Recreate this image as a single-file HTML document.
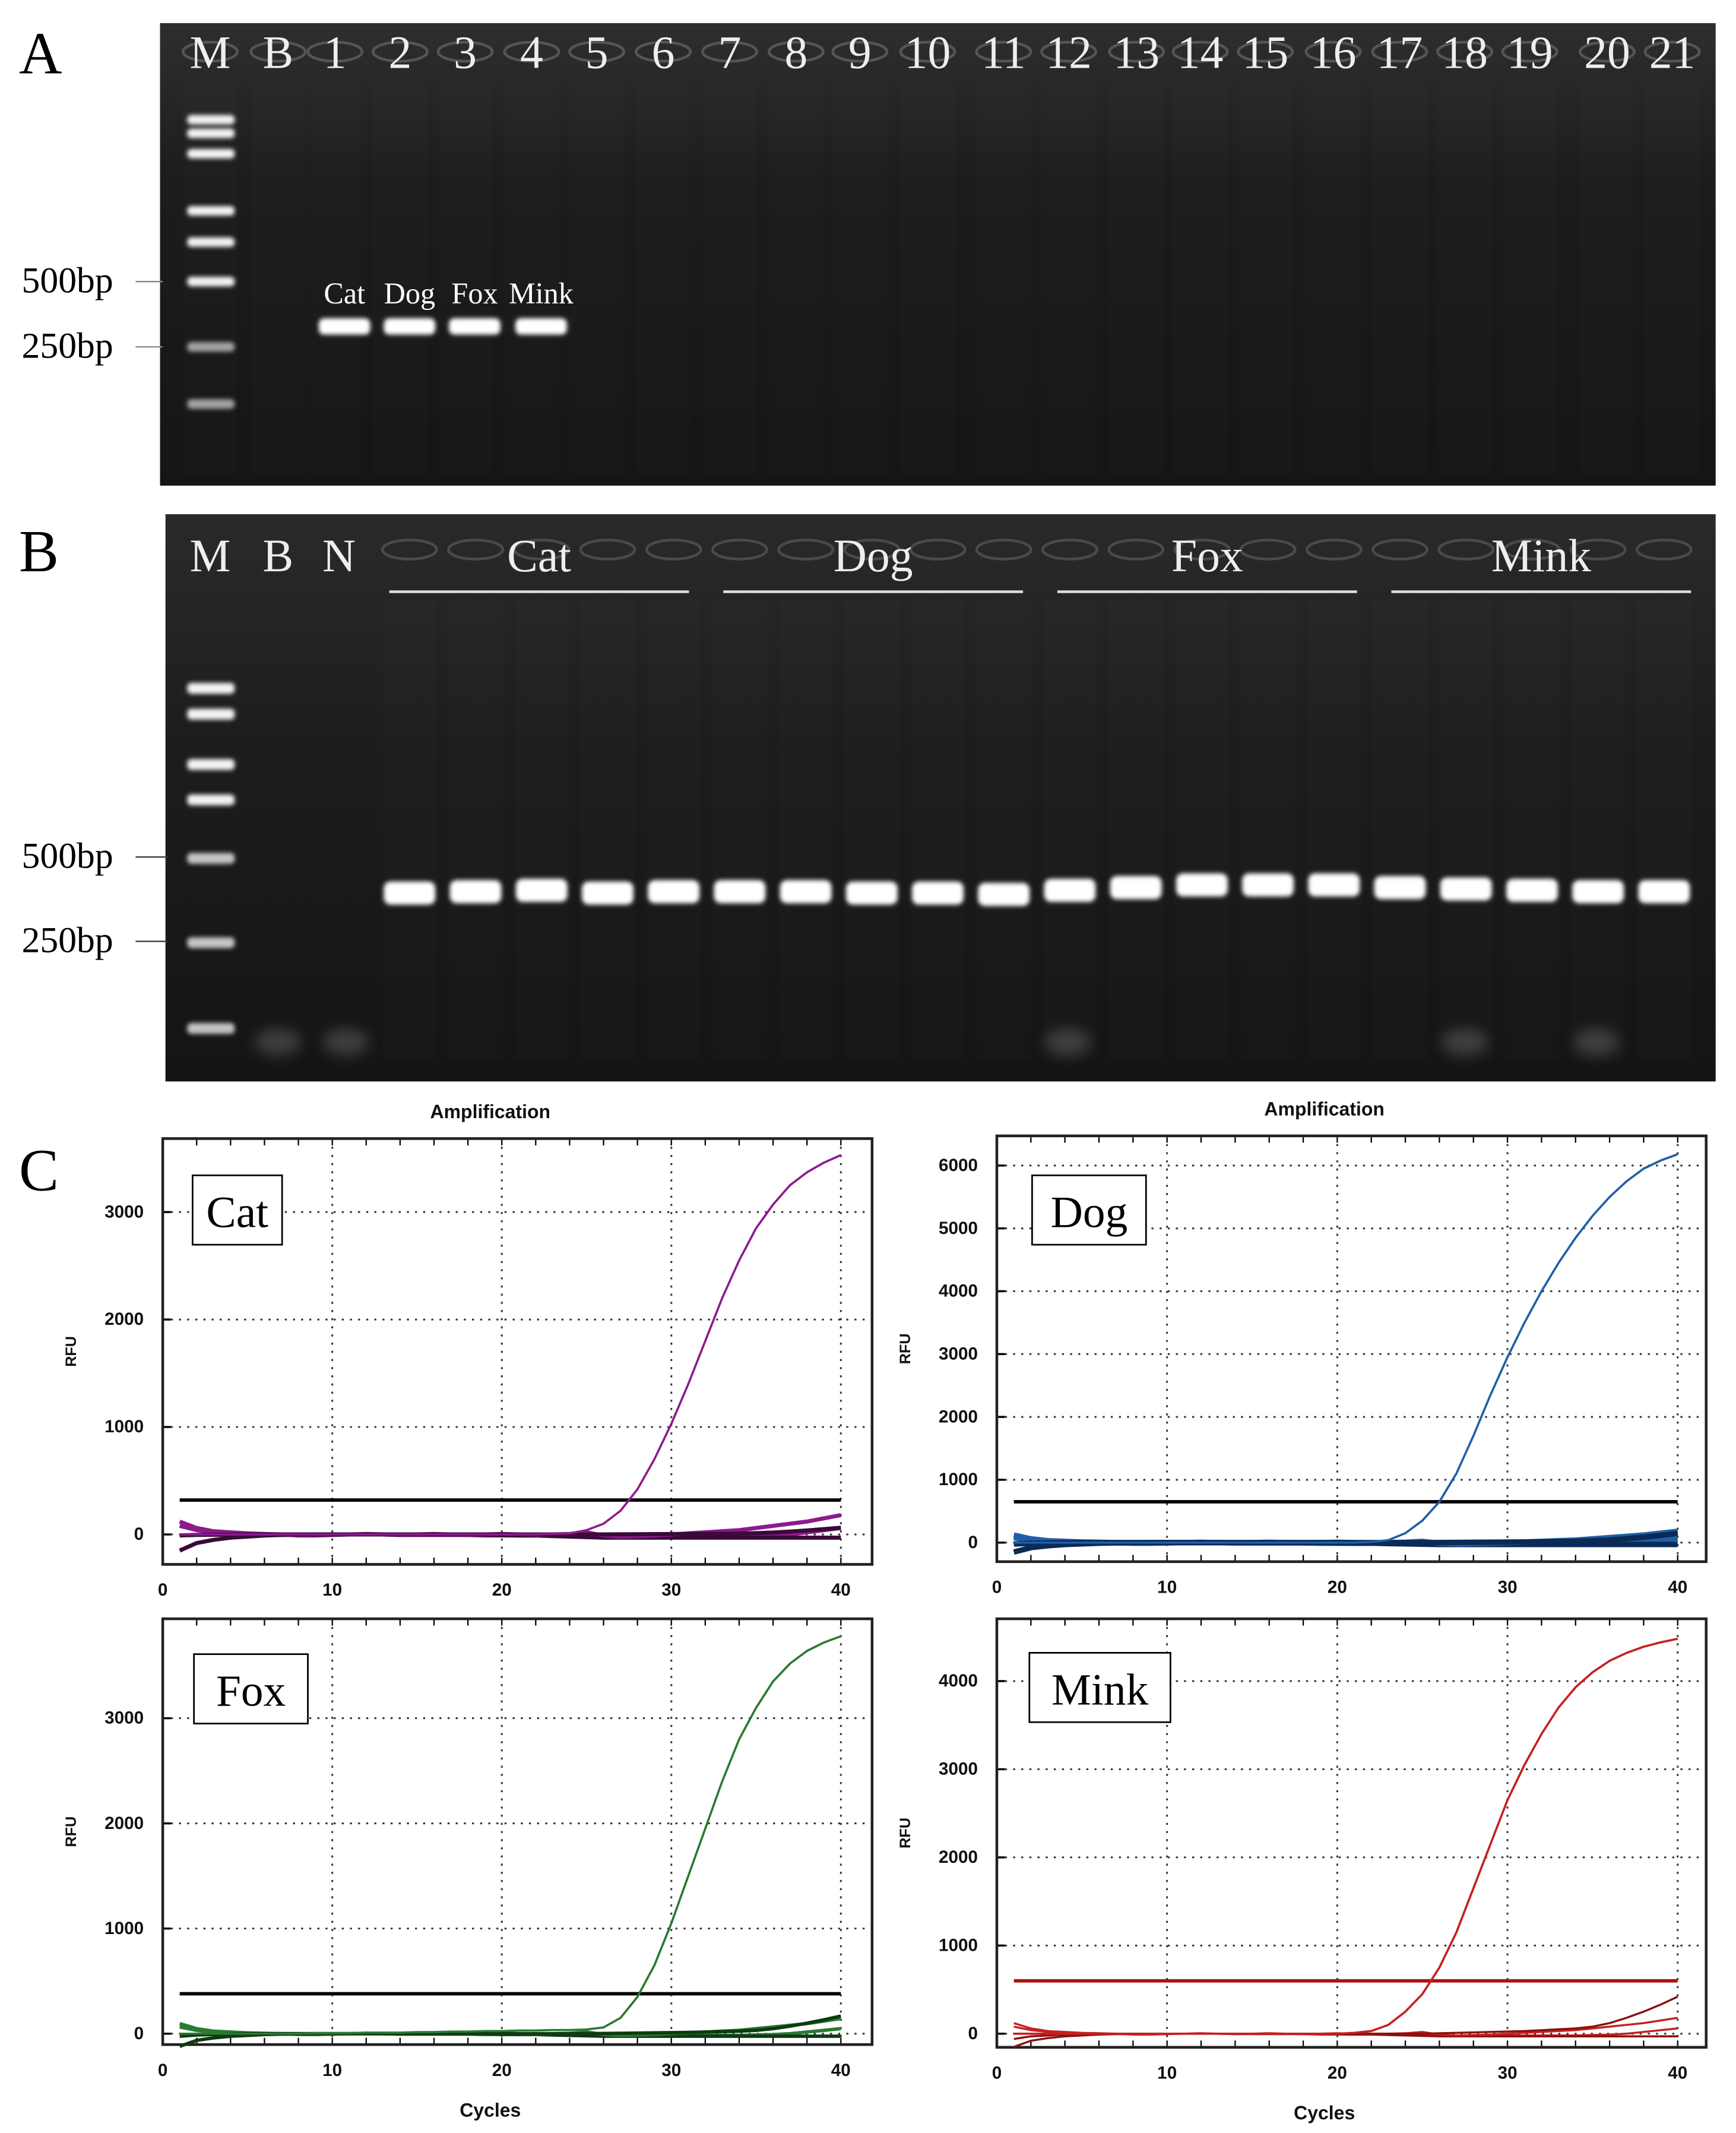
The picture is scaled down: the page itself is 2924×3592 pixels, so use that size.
<!DOCTYPE html>
<html><head><meta charset="utf-8"><style>
html,body{margin:0;padding:0;background:#fff;}
svg{display:block;}
</style></head><body>
<svg id="fig" width="2924" height="3592" viewBox="0 0 1280 1568" preserveAspectRatio="none" xmlns="http://www.w3.org/2000/svg">
<defs>
<filter id="glow" x="-50%" y="-100%" width="200%" height="300%"><feGaussianBlur stdDeviation="1.6"/></filter>
<filter id="soft" x="-50%" y="-100%" width="200%" height="300%"><feGaussianBlur stdDeviation="5"/></filter>
<linearGradient id="gelA" x1="0" y1="0" x2="0" y2="1"><stop offset="0" stop-color="#2e2e2e"/><stop offset="0.35" stop-color="#1c1c1c"/><stop offset="1" stop-color="#151515"/></linearGradient>
<linearGradient id="gelB" x1="0" y1="0" x2="0" y2="1"><stop offset="0" stop-color="#2a2a2a"/><stop offset="0.4" stop-color="#1d1d1d"/><stop offset="1" stop-color="#141414"/></linearGradient>
</defs>
<g id="root"></g>
</svg>
<script>
// ---- data ----
const laneLabelsA = ["M","B","1","2","3","4","5","6","7","8","9","10","11","12","13","14","15","16","17","18","19","20","21"];
const laneXA = [155,205,247,295,343,392,440,489,538,587,634,684,740,788,838,885,933,983,1032,1080,1128,1185,1233];
const ladderA = [88,98,113,155,178,207,255,297];
const bandsA = ["Cat","Dog","Fox","Mink"];
const ladderB = [506,525,562,588,631,693,756];
const groupsB = ["Cat","Dog","Fox","Mink"];
const bandYB = [656,655,654,656,655,655,655,656,656,657,654,652,650,650,650,652,653,654,655,655];
const cycles = Array.from({length:40},(_,i)=>i+1);
const catCurve = [0,0,0,0,0,0,0,0,0,0,0,0,0,0,0,0,0,0,0,0,0,0,5,10,40,100,220,420,700,1030,1400,1800,2200,2550,2850,3070,3250,3370,3460,3530];
const dogCurve = [0,0,0,0,0,0,0,0,0,0,0,0,0,0,0,0,0,0,0,0,0,10,40,150,350,650,1100,1700,2350,2950,3500,4000,4450,4850,5200,5500,5750,5950,6080,6180];
const foxCurve = [0,0,0,0,0,0,0,0,5,5,5,10,10,10,15,15,20,20,25,25,30,30,35,35,40,60,150,350,650,1050,1500,1950,2400,2800,3100,3350,3520,3640,3720,3780];
const minkCurve = [0,0,0,0,0,0,0,0,0,0,0,0,0,0,0,0,0,0,0,0,10,30,100,250,450,750,1150,1650,2150,2650,3050,3400,3700,3930,4100,4230,4320,4390,4440,4480];
const negA = [120,60,30,20,10,5,0,0,0,0,0,0,0,-5,-5,-5,-5,-5,-10,-10,-10,-10,-10,-10,-15,-15,-20,-20,-20,-20,-20,-20,-20,-20,-15,-10,0,20,40,60];
const negB = [-150,-80,-50,-30,-20,-10,-5,-5,0,0,0,0,0,0,0,0,0,0,0,-5,-10,-10,-15,-20,-25,-30,-30,-30,-30,-30,-30,-30,-30,-30,-30,-30,-30,-30,-30,-30];
const negC = [80,40,20,10,5,0,0,-10,-10,-5,0,5,0,-5,0,5,0,-5,0,5,0,-5,0,5,20,-10,-20,-15,-10,0,10,20,30,40,60,80,100,120,150,180];
const negD = [-60,-30,-20,-10,0,0,0,0,0,0,0,0,0,0,0,0,0,0,0,0,0,0,0,0,0,5,10,15,20,25,30,40,50,60,80,120,180,250,330,420];
const thresholds = [320,650,380,600];
const yTicksCat = [0,1000,2000,3000];
const yTicksDog = [0,1000,2000,3000,4000,5000,6000];
const yTicksFox = [0,1000,2000,3000];
const yTicksMink = [0,1000,2000,3000,4000];
const xTicks = [0,10,20,30,40];

const NS="http://www.w3.org/2000/svg";
const root=document.getElementById('root');
function mk(tag,attrs,parent){const e=document.createElementNS(NS,tag);for(const k in attrs)e.setAttribute(k,attrs[k]);(parent||root).appendChild(e);return e;}
function txt(s,attrs,parent){const e=mk('text',attrs,parent);e.textContent=s;return e;}
const serif='"Liberation Serif", serif';
const sans='"Liberation Sans", sans-serif';

// ---- Panel A ----
const gA=mk('g',{});


const la=txt('A',{x:14,y:54,'font-family':serif,'font-size':44,fill:'#000'});

mk('rect',{x:118,y:17,width:1147,height:340,fill:'url(#gelA)'},gA);
laneXA.forEach((x,i)=>{
  mk('rect',{x:x-20,y:60,width:40,height:290,fill:'#ffffff',opacity:0.012},gA);
  mk('ellipse',{cx:x,cy:38,rx:20,ry:7,fill:'none',stroke:'#555',"stroke-width":2},gA);
  const t=txt(laneLabelsA[i],{x:x,y:50,'text-anchor':'middle','font-family':serif,'font-size':34,fill:'#eee'},gA);
  
});
ladderA.forEach((y,i)=>{
  const b=mk('rect',{x:138,y:y-3.5,width:35,height:7,rx:3,fill:'#fff',opacity:i>=6?0.6:0.95,filter:'url(#glow)'},gA);
  
});
bandsA.forEach((n,i)=>{
  const x=laneXA[i+2]+7;
  const b=mk('rect',{x:x-19,y:234,width:38,height:12,rx:4,fill:'#fff',filter:'url(#glow)'},gA);
  
  const t=txt(n,{x:x,y:223,'text-anchor':'middle','font-family':serif,'font-size':22,fill:'#fff'},gA);
  
});
[['500bp',207],['250bp',255]].forEach(([s,y])=>{
  const t=txt(s,{x:16,y:y+8,'font-family':serif,'font-size':27,fill:'#000'});
  
  mk('line',{x1:100,y1:y,x2:120,y2:y,stroke:'#888','stroke-width':1});
});

// ---- Panel B ----
const gB=mk('g',{});


const lb=txt('B',{x:14,y:420,'font-family':serif,'font-size':44,fill:'#000'});

mk('rect',{x:122,y:378,width:1143,height:417,fill:'url(#gelB)'},gB);
[['M',155],['B',205],['N',250]].forEach(([s,x])=>{
  const t=txt(s,{x:x,y:420,'text-anchor':'middle','font-family':serif,'font-size':34,fill:'#eee'},gB);
  
});
const lane0=302, laneStep=(1227-302)/19;
bandYB.forEach((y,i)=>{
  const x=lane0+i*laneStep;
  mk('ellipse',{cx:x,cy:404,rx:20,ry:7,fill:'none',stroke:'#4a4a4a','stroke-width':2},gB);
  mk('rect',{x:x-20,y:440,width:40,height:340,fill:'#fff',opacity:0.012},gB);
  const b=mk('rect',{x:x-19,y:y-8,width:38,height:17,rx:5,fill:'#fff',filter:'url(#glow)'},gB);
  
});
groupsB.forEach((n,i)=>{
  const x1=287+i*246.3, x2=x1+221;
  const t=txt(n,{x:(x1+x2)/2,y:420,'text-anchor':'middle','font-family':serif,'font-size':34,fill:'#eee'},gB);
  
  mk('line',{x1:x1,y1:435,x2:x2,y2:435,stroke:'#ddd','stroke-width':2},gB);
});
ladderB.forEach((y,i)=>{
  const b=mk('rect',{x:138,y:y-4,width:35,height:8,rx:3,fill:'#fff',opacity:i>=4?0.75:0.95,filter:'url(#glow)'},gB);
  
});
[205,255,787,1080,1177].forEach(x=>mk('ellipse',{cx:x,cy:766,rx:17,ry:10,fill:'#888',opacity:0.35,filter:'url(#soft)'},gB));
[['500bp',630],['250bp',692]].forEach(([s,y])=>{
  const t=txt(s,{x:16,y:y+8,'font-family':serif,'font-size':27,fill:'#000'});
  
  mk('line',{x1:100,y1:y,x2:124,y2:y,stroke:'#333','stroke-width':1});
});

// ---- Panel C ----
const lc=txt('C',{x:14,y:875,'font-family':serif,'font-size':44,fill:'#000'});


function chart(cfg){
  const g=mk('g',{});
  
  
  const X=v=>cfg.x0+(v/40)*(cfg.x40-cfg.x0);
  const Y=v=>cfg.y0-v*cfg.k;
  cfg.yTicks.forEach(t=>{
    const y=Y(t);
    mk('line',{x1:cfg.fx1,y1:y,x2:cfg.fx2,y2:y,stroke:'#333','stroke-width':1.3,'stroke-dasharray':'1.5 4.5'},g);
    mk('line',{x1:cfg.fx1,y1:y,x2:cfg.fx1+6,y2:y,stroke:'#000','stroke-width':1.5},g);
    const l=txt(String(t),{x:cfg.fx1-14,y:y+4,'text-anchor':'end','font-family':sans,'font-size':13,'font-weight':'bold',fill:'#111'},g);
    
  });
  for(let c=2;c<=40;c+=2){const x=X(c);mk('line',{x1:x,y1:cfg.fy2,x2:x,y2:cfg.fy2-5,stroke:'#000','stroke-width':1},g);mk('line',{x1:x,y1:cfg.fy1,x2:x,y2:cfg.fy1+5,stroke:'#000','stroke-width':1},g);}
  xTicks.forEach(t=>{
    const x=X(t);
    if(t>0) mk('line',{x1:x,y1:cfg.fy1,x2:x,y2:cfg.fy2,stroke:'#333','stroke-width':1.3,'stroke-dasharray':'1.5 4.5'},g);
    const l=txt(String(t),{x:x,y:cfg.fy2+23,'text-anchor':'middle','font-family':sans,'font-size':13,'font-weight':'bold',fill:'#111'},g);
    
  });
  mk('rect',{x:cfg.fx1,y:cfg.fy1,width:cfg.fx2-cfg.fx1,height:cfg.fy2-cfg.fy1,fill:'none',stroke:'#222','stroke-width':2},g);
  [negA,negB,negC,negD].forEach((arr,j)=>{
    const s=j===3?cfg.rise:cfg.nscale;
    const p=mk('polyline',{points:cycles.map((c,i)=>X(c)+','+Y(arr[i]*s)).join(' '),fill:'none',stroke:j%2?cfg.dark:cfg.color,'stroke-width':cfg.bw},g);
    
  });
  const th=mk('line',{x1:X(1),y1:Y(cfg.th),x2:X(40),y2:Y(cfg.th),stroke:cfg.thColor,'stroke-width':2.5},g);
  
  const p=mk('polyline',{points:cycles.map((c,i)=>X(c)+','+Y(cfg.data[i])).join(' '),fill:'none',stroke:cfg.color,'stroke-width':1.6,'stroke-linejoin':'round'},g);
  
  const r=mk('rect',{x:cfg.bx,y:cfg.by,width:cfg.bw2,height:51,fill:'#fff',stroke:'#000','stroke-width':1.2},g);
  
  const bt=txt(cfg.name,{x:cfg.bx+cfg.bw2/2,y:cfg.by+38,'text-anchor':'middle','font-family':serif,'font-size':33,fill:'#000'},g);
  
  const rf=txt('RFU',{x:0,y:0,transform:`translate(${cfg.fx1-64},${(cfg.fy1+cfg.fy2)/2}) rotate(-90)`,'text-anchor':'middle','font-family':sans,'font-size':11,'font-weight':'bold',fill:'#111'},g);
  
  if(cfg.title){const t=txt('Amplification',{x:(cfg.fx1+cfg.fx2)/2-20,y:cfg.fy1-15,'text-anchor':'middle','font-family':sans,'font-size':14,'font-weight':'bold',fill:'#111'},g);}
  if(cfg.xtitle){const t=txt('Cycles',{x:(cfg.fx1+cfg.fx2)/2-20,y:cfg.fy2+53,'text-anchor':'middle','font-family':sans,'font-size':14,'font-weight':'bold',fill:'#111'},g);}
}
chart({name:'Cat',data:catCurve,th:thresholds[0],yTicks:yTicksCat,x0:120,x40:620,y0:1128,k:0.079,fx1:120,fx2:643,fy1:837,fy2:1150,color:'#8e1a8e',dark:'#3a0a3a',thColor:'#000',bw:3,nscale:1,rise:0.15,bx:142,by:864,bw2:66,title:true});
chart({name:'Dog',data:dogCurve,th:thresholds[1],yTicks:yTicksDog,x0:735,x40:1237,y0:1134,k:0.0462,fx1:735,fx2:1258,fy1:835,fy2:1148,color:'#1f5fa8',dark:'#0b2a55',thColor:'#000',bw:4,nscale:1.0,rise:0.35,bx:761,by:864,bw2:84,title:true});
chart({name:'Fox',data:foxCurve,th:thresholds[2],yTicks:yTicksFox,x0:120,x40:620,y0:1495,k:0.0773,fx1:120,fx2:643,fy1:1190,fy2:1503,color:'#2a7a32',dark:'#0e3a12',thColor:'#000',bw:2.5,nscale:0.8,rise:0.4,bx:143,by:1216,bw2:84,xtitle:true});
chart({name:'Mink',data:minkCurve,th:thresholds[3],yTicks:yTicksMink,x0:735,x40:1237,y0:1495,k:0.0648,fx1:735,fx2:1258,fy1:1190,fy2:1505,color:'#c42020',dark:'#8a1010',thColor:'#b01010',bw:1.5,nscale:1,rise:1,bx:759,by:1215,bw2:104,xtitle:true});
</script>
</body></html>
